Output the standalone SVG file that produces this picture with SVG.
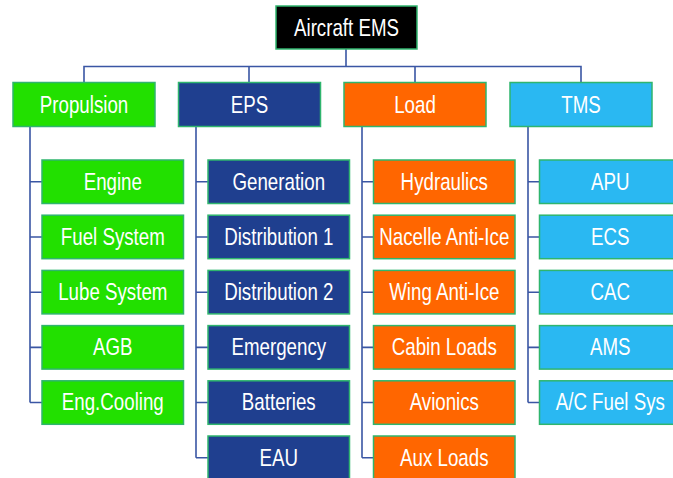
<svg xmlns="http://www.w3.org/2000/svg" width="673" height="478" viewBox="0 0 673 478">
<defs>
<style>
.b{stroke:#2fb56e;stroke-width:1.5}
.root{fill:#000000}
.g{fill:#22e000}
.n{fill:#1f3f8f}
.o{fill:#ff6600}
.c{fill:#2ab8f2}
text{font-family:"Liberation Sans",Arial,sans-serif;font-size:24px;fill:#ffffff;text-anchor:middle}
.con{fill:none;stroke:#3a56a4;stroke-width:1.6}
</style>
</defs>
<rect width="673" height="478" fill="#ffffff"/>
<g id="connectors" class="con">
<path d="M346,49 V66.5 M84,82 V66.5 H581 V82 M249,66.5 V82 M415,66.5 V82"/>
<path d="M30,126.5 V402.5 M30,181.8 H42 M30,237 H42 M30,292.2 H42 M30,347.4 H42 M30,402.5 H42"/>
<path d="M196,126.5 V457.8 M196,181.8 H208 M196,237 H208 M196,292.2 H208 M196,347.4 H208 M196,402.5 H208 M196,457.8 H208"/>
<path d="M362,126.5 V457.8 M362,181.8 H373 M362,237 H373 M362,292.2 H373 M362,347.4 H373 M362,402.5 H373 M362,457.8 H373"/>
<path d="M528,126.5 V402.5 M528,181.8 H539 M528,237 H539 M528,292.2 H539 M528,347.4 H539 M528,402.5 H539"/>
</g>
<g id="root"><rect class="b root" x="276" y="6" width="141" height="43"/><text transform="translate(346.5,36) scale(0.78,1)">Aircraft EMS</text></g>
<g id="propulsion"><rect class="b g" x="13" y="82.5" width="142" height="44"/><text transform="translate(84,112.5) scale(0.78,1)">Propulsion</text></g>
<g id="eps"><rect class="b n" x="178.5" y="82.5" width="142" height="44"/><text transform="translate(249.5,112.5) scale(0.78,1)">EPS</text></g>
<g id="load"><rect class="b o" x="344" y="82.5" width="142" height="44"/><text transform="translate(415,112.5) scale(0.78,1)">Load</text></g>
<g id="tms"><rect class="b c" x="510" y="82.5" width="142" height="44"/><text transform="translate(581,112.5) scale(0.78,1)">TMS</text></g>

<g id="engine"><rect class="b g" x="42" y="160" width="141.5" height="43.5"/><text transform="translate(112.8,189.5) scale(0.78,1)">Engine</text></g>
<g id="fuel-system"><rect class="b g" x="42" y="215.2" width="141.5" height="43.5"/><text transform="translate(112.8,244.7) scale(0.78,1)">Fuel System</text></g>
<g id="lube-system"><rect class="b g" x="42" y="270.4" width="141.5" height="43.5"/><text transform="translate(112.8,299.9) scale(0.78,1)">Lube System</text></g>
<g id="agb"><rect class="b g" x="42" y="325.6" width="141.5" height="43.5"/><text transform="translate(112.8,355.1) scale(0.78,1)">AGB</text></g>
<g id="eng-cooling"><rect class="b g" x="42" y="380.8" width="141.5" height="43.5"/><text transform="translate(112.8,410.3) scale(0.78,1)">Eng.Cooling</text></g>

<g id="generation"><rect class="b n" x="208" y="160" width="141.5" height="43.5"/><text transform="translate(278.8,189.5) scale(0.78,1)">Generation</text></g>
<g id="distribution-1"><rect class="b n" x="208" y="215.2" width="141.5" height="43.5"/><text transform="translate(278.8,244.7) scale(0.78,1)">Distribution 1</text></g>
<g id="distribution-2"><rect class="b n" x="208" y="270.4" width="141.5" height="43.5"/><text transform="translate(278.8,299.9) scale(0.78,1)">Distribution 2</text></g>
<g id="emergency"><rect class="b n" x="208" y="325.6" width="141.5" height="43.5"/><text transform="translate(278.8,355.1) scale(0.78,1)">Emergency</text></g>
<g id="batteries"><rect class="b n" x="208" y="380.8" width="141.5" height="43.5"/><text transform="translate(278.8,410.3) scale(0.78,1)">Batteries</text></g>
<g id="eau"><rect class="b n" x="208" y="436" width="141.5" height="43.5"/><text transform="translate(278.8,465.5) scale(0.78,1)">EAU</text></g>

<g id="hydraulics"><rect class="b o" x="373.5" y="160" width="141.5" height="43.5"/><text transform="translate(444.3,189.5) scale(0.78,1)">Hydraulics</text></g>
<g id="nacelle-anti-ice"><rect class="b o" x="373.5" y="215.2" width="141.5" height="43.5"/><text transform="translate(444.3,244.7) scale(0.78,1)">Nacelle Anti-Ice</text></g>
<g id="wing-anti-ice"><rect class="b o" x="373.5" y="270.4" width="141.5" height="43.5"/><text transform="translate(444.3,299.9) scale(0.78,1)">Wing Anti-Ice</text></g>
<g id="cabin-loads"><rect class="b o" x="373.5" y="325.6" width="141.5" height="43.5"/><text transform="translate(444.3,355.1) scale(0.78,1)">Cabin Loads</text></g>
<g id="avionics"><rect class="b o" x="373.5" y="380.8" width="141.5" height="43.5"/><text transform="translate(444.3,410.3) scale(0.78,1)">Avionics</text></g>
<g id="aux-loads"><rect class="b o" x="373.5" y="436" width="141.5" height="43.5"/><text transform="translate(444.3,465.5) scale(0.78,1)">Aux Loads</text></g>

<g id="apu"><rect class="b c" x="539.5" y="160" width="141.5" height="43.5"/><text transform="translate(610.3,189.5) scale(0.78,1)">APU</text></g>
<g id="ecs"><rect class="b c" x="539.5" y="215.2" width="141.5" height="43.5"/><text transform="translate(610.3,244.7) scale(0.78,1)">ECS</text></g>
<g id="cac"><rect class="b c" x="539.5" y="270.4" width="141.5" height="43.5"/><text transform="translate(610.3,299.9) scale(0.78,1)">CAC</text></g>
<g id="ams"><rect class="b c" x="539.5" y="325.6" width="141.5" height="43.5"/><text transform="translate(610.3,355.1) scale(0.78,1)">AMS</text></g>
<g id="ac-fuel-sys"><rect class="b c" x="539.5" y="380.8" width="141.5" height="43.5"/><text transform="translate(610.3,410.3) scale(0.78,1)">A/C Fuel Sys</text></g>
</svg>
